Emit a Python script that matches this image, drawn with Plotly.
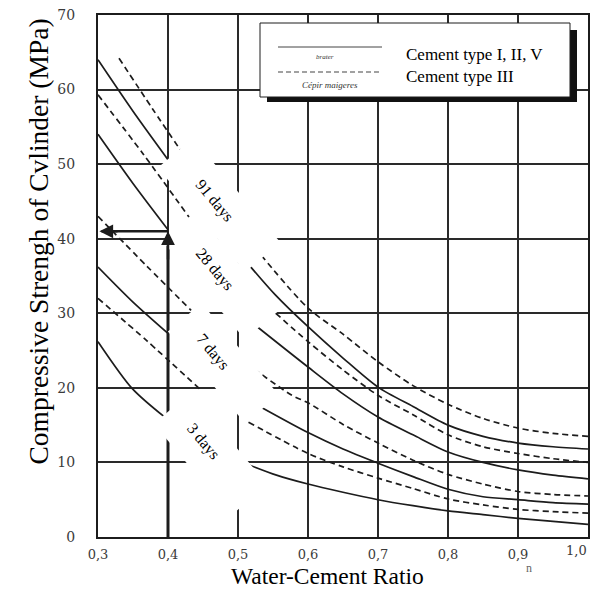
import math
import plotly.graph_objects as go

# ---------------- data ----------------
wc_ticks = [0.3, 0.4, 0.5, 0.6, 0.7, 0.8, 0.9, 1.0]
wc_labels = ["0,3", "0,4", "0,5", "0,6", "0,7", "0,8", "0,9", "1,0"]
strength_ticks = [0, 10, 20, 30, 40, 50, 60, 70]

# type I, II, V (solid) and type III (dashed); left part / right part of each curve
d91_I_xl = [0.30, 0.35, 0.40]
d91_I_yl = [64.0, 57.1, 50.6]
d91_I_xr = [0.512, 0.553, 0.60, 0.65, 0.70, 0.75, 0.80, 0.85, 0.90, 0.95, 1.00]
d91_I_yr = [36.9, 32.5, 28.2, 24.0, 20.1, 17.5, 15.0, 13.5, 12.6, 12.1, 11.8]

d91_III_xl = [0.33, 0.378, 0.427]
d91_III_yl = [64.2, 57.4, 50.6]
d91_III_xr = [0.533, 0.60, 0.65, 0.70, 0.75, 0.80, 0.85, 0.90, 0.95, 1.00]
d91_III_yr = [37.8, 30.7, 27.2, 23.5, 20.3, 17.8, 15.9, 14.6, 13.9, 13.5]

d28_I_xl = [0.30, 0.35, 0.40]
d28_I_yl = [54.0, 47.4, 41.2]
d28_I_xr = [0.526, 0.60, 0.65, 0.70, 0.75, 0.80, 0.85, 0.90, 0.95, 1.00]
d28_I_yr = [28.3, 22.8, 19.2, 16.1, 13.7, 11.4, 10.0, 9.0, 8.3, 7.8]

d28_III_xl = [0.30, 0.365, 0.43]
d28_III_yl = [59.3, 51.3, 42.9]
d28_III_xr = [0.554, 0.60, 0.65, 0.70, 0.75, 0.80, 0.85, 0.90, 0.95, 1.00]
d28_III_yr = [30.0, 26.2, 22.4, 19.0, 16.4, 13.7, 12.1, 11.2, 10.5, 10.0]

d7_I_xl = [0.30, 0.35, 0.40]
d7_I_yl = [36.2, 31.5, 27.3]
d7_I_xr = [0.533, 0.60, 0.65, 0.70, 0.75, 0.80, 0.85, 0.90, 0.95, 1.00]
d7_I_yr = [17.4, 14.0, 11.8, 9.9, 8.1, 6.4, 5.4, 5.0, 4.6, 4.4]

d7_III_xl = [0.30, 0.37, 0.433]
d7_III_yl = [43.0, 36.3, 30.4]
d7_III_xr = [0.50, 0.577, 0.60, 0.65, 0.70, 0.75, 0.80, 0.85, 0.90, 0.95, 1.00]
d7_III_yr = [24.1, 19.0, 18.0, 15.1, 12.6, 10.3, 8.4, 7.1, 6.1, 5.7, 5.5]

d3_I_xl = [0.30, 0.349, 0.395]
d3_I_yl = [26.2, 19.9, 16.1]
d3_I_xr = [0.515, 0.555, 0.60, 0.65, 0.70, 0.75, 0.80, 0.85, 0.90, 0.95, 1.00]
d3_I_yr = [9.7, 8.3, 7.1, 6.0, 5.0, 4.2, 3.5, 3.0, 2.5, 2.1, 1.7]

d3_III_xl = [0.30, 0.37, 0.447]
d3_III_yl = [32.0, 26.3, 19.7]
d3_III_xr = [0.515, 0.60, 0.65, 0.70, 0.75, 0.80, 0.85, 0.90, 0.95, 1.00]
d3_III_yr = [15.4, 11.2, 9.4, 7.9, 6.5, 5.1, 4.3, 3.7, 3.4, 3.2]

age_labels = ["91 days", "28 days", "7 days", "3 days"]
age_label_x = [0.467, 0.466, 0.464, 0.450]
age_label_y = [45.1, 35.9, 24.8, 12.9]

# white label boxes (centre in data units, half sizes in px)
box_cx = [0.473, 0.475, 0.479, 0.461]
box_cy = [44.5, 35.0, 23.3, 11.1]
box_a = [68, 64, 60, 60]
box_b = [23, 22, 22, 24]

legend_labels = ["Cement type I, II, V", "Cement type III"]

arrow_wc = 0.4
arrow_strength = 41

# ---------------- figure ----------------
INK = "#1c1c1c"
fig = go.Figure()

curves = [
    (d91_I_xl, d91_I_yl, d91_I_xr, d91_I_yr, "solid"),
    (d91_III_xl, d91_III_yl, d91_III_xr, d91_III_yr, "6px,4px"),
    (d28_I_xl, d28_I_yl, d28_I_xr, d28_I_yr, "solid"),
    (d28_III_xl, d28_III_yl, d28_III_xr, d28_III_yr, "6px,4px"),
    (d7_I_xl, d7_I_yl, d7_I_xr, d7_I_yr, "solid"),
    (d7_III_xl, d7_III_yl, d7_III_xr, d7_III_yr, "6px,4px"),
    (d3_I_xl, d3_I_yl, d3_I_xr, d3_I_yr, "solid"),
    (d3_III_xl, d3_III_yl, d3_III_xr, d3_III_yr, "6px,4px"),
]
for xl, yl, xr, yr, dash in curves:
    fig.add_trace(go.Scatter(
        x=xl + [None] + xr, y=yl + [None] + yr, mode="lines",
        line=dict(color=INK, width=1.7, dash=dash, shape="spline", smoothing=0.8),
        connectgaps=False, showlegend=False, hoverinfo="skip"))

# arrow shafts
fig.add_trace(go.Scatter(x=[arrow_wc, arrow_wc], y=[0, arrow_strength - 0.5], mode="lines",
                         line=dict(color=INK, width=3), showlegend=False, hoverinfo="skip"))
fig.add_trace(go.Scatter(x=[arrow_wc, 0.305], y=[arrow_strength, arrow_strength], mode="lines",
                         line=dict(color=INK, width=2.5), showlegend=False, hoverinfo="skip"))

# page geometry (the page body adds an 8px offset)
OFF = 8
W, H = 598 - OFF, 601 - OFF
ML, MR, MT, MB = 98 - OFF, 10, 15 - OFF, 64
PW, PH = W - ML - MR, H - MT - MB
PX_X = PW / (1.0 - 0.3)
PX_Y = PH / 70.0
PLOT_LEFT, PLOT_BOTTOM = 98, 537

th = math.radians(50)
ux, uy = math.cos(th), math.sin(th)
vx, vy = -math.sin(th), math.cos(th)

shapes = []
for cx, cy, a, b in zip(box_cx, box_cy, box_a, box_b):
    pts = []
    for sa, sb in [(-1, -1), (1, -1), (1, 1), (-1, 1)]:
        dx = sa * a * ux + sb * b * vx
        dy = sa * a * uy + sb * b * vy
        pts.append((cx + dx / PX_X, cy - dy / PX_Y))
    path = "M " + " L ".join(f"{p[0]:.5f},{p[1]:.4f}" for p in pts) + " Z"
    shapes.append(dict(type="path", path=path, xref="x", yref="y", fillcolor="white",
                       line=dict(width=0), layer="above"))


def px2paper(px, py):
    return (px - PLOT_LEFT) / PW, (PLOT_BOTTOM - py) / PH


# legend box with shadow
x0, y0 = px2paper(267, 30)
x1, y1 = px2paper(577, 102)
shapes.append(dict(type="rect", xref="paper", yref="paper", x0=x0, y0=y1, x1=x1, y1=y0,
                   fillcolor="#111", line=dict(width=0), layer="above"))
x0, y0 = px2paper(260, 23)
x1, y1 = px2paper(570, 97)
shapes.append(dict(type="rect", xref="paper", yref="paper", x0=x0, y0=y1, x1=x1, y1=y0,
                   fillcolor="white", line=dict(color=INK, width=1), layer="above"))
lx0, ly = px2paper(278, 47)
lx1, _ = px2paper(382, 47)
shapes.append(dict(type="line", xref="paper", yref="paper", x0=lx0, y0=ly, x1=lx1, y1=ly,
                   line=dict(color="#444", width=1), layer="above"))
lx0, ly = px2paper(278, 72)
lx1, _ = px2paper(380, 72)
shapes.append(dict(type="line", xref="paper", yref="paper", x0=lx0, y0=ly, x1=lx1, y1=ly,
                   line=dict(color="#444", width=1.2, dash="5px,3px"), layer="above"))

SERIF = "Liberation Serif"
TICK_COLOR = "#3a3a3a"
annotations = []
for t, x, y in zip(age_labels, age_label_x, age_label_y):
    annotations.append(dict(x=x, y=y, xref="x", yref="y", text=t, showarrow=False,
                            textangle=50, font=dict(family=SERIF, size=16, color="black")))

for i, t in enumerate(legend_labels):
    px_, py_ = px2paper(404, 55 + 21 * i)
    annotations.append(dict(x=px_, y=py_, xref="paper", yref="paper", text=t, showarrow=False,
                            xanchor="left", yanchor="middle",
                            font=dict(family=SERIF, size=17, color="black")))

bx, by = px2paper(325, 51)
annotations.append(dict(x=bx, y=by, xref="paper", yref="paper", text="<i>brater</i>",
                        showarrow=False, font=dict(family=SERIF, size=7, color="#333")))
bx, by = px2paper(330, 78)
annotations.append(dict(x=bx, y=by, xref="paper", yref="paper", text="<i>Cépir maigeres</i>",
                        showarrow=False, font=dict(family=SERIF, size=9, color="#333")))

# last x tick label drawn right-anchored so it stays inside the page
tick_text = wc_labels[:-1] + [""]
lx, ly = px2paper(589, 550)
annotations.append(dict(x=lx, y=ly, xref="paper", yref="paper", text=wc_labels[-1],
                        showarrow=False, xanchor="right", yanchor="middle",
                        font=dict(family="DejaVu Serif", size=13, color=TICK_COLOR)))

# arrow heads
annotations.append(dict(x=arrow_wc, y=arrow_strength, ax=arrow_wc, ay=arrow_strength - 4,
                        xref="x", yref="y", axref="x", ayref="y", text="", showarrow=True,
                        arrowhead=2, arrowsize=1.1, arrowwidth=2.5, arrowcolor=INK))
annotations.append(dict(x=0.302, y=arrow_strength, ax=0.33, ay=arrow_strength,
                        xref="x", yref="y", axref="x", ayref="y", text="", showarrow=True,
                        arrowhead=2, arrowsize=1.1, arrowwidth=2.5, arrowcolor=INK))

# axis titles
tx, ty = px2paper(20, 242)
annotations.append(dict(x=tx, y=ty, xref="paper", yref="paper",
                        text="Compressive Strengh of Cvlinder (MPa)", showarrow=False,
                        textangle=-90, font=dict(family=SERIF, size=27.5, color="black")))
tx, ty = px2paper(327, 591)
annotations.append(dict(x=tx, y=ty, xref="paper", yref="paper", text="Water-Cement Ratio",
                        showarrow=False, font=dict(family=SERIF, size=23.5, color="black")))
tx, ty = px2paper(534, 577)
annotations.append(dict(x=tx, y=ty, xref="paper", yref="paper", text="n",
                        showarrow=False, font=dict(family=SERIF, size=12, color="#666")))

fig.update_layout(
    width=W, height=H,
    margin=dict(l=ML, r=MR, t=MT, b=MB, autoexpand=False),
    paper_bgcolor="white", plot_bgcolor="white",
    showlegend=False,
    shapes=shapes,
    annotations=annotations,
    xaxis=dict(range=[0.3, 1.0], tickvals=wc_ticks, ticktext=tick_text,
               tickfont=dict(family="DejaVu Serif", size=13, color=TICK_COLOR),
               showgrid=True, gridcolor="#2a2a2a", gridwidth=1.8, zeroline=False,
               showline=True, linecolor=INK, linewidth=2, mirror=True, ticks="",
               ticklabelstandoff=4, ticklabeloverflow="allow"),
    yaxis=dict(range=[0, 70], tickvals=strength_ticks,
               tickfont=dict(family="DejaVu Serif", size=14, color=TICK_COLOR),
               showgrid=True, gridcolor="#2a2a2a", gridwidth=1.8, zeroline=False,
               showline=True, linecolor=INK, linewidth=2, mirror=True, ticks="",
               ticklabelstandoff=18, ticklabeloverflow="allow"),
)

fig.write_html("out.html")
